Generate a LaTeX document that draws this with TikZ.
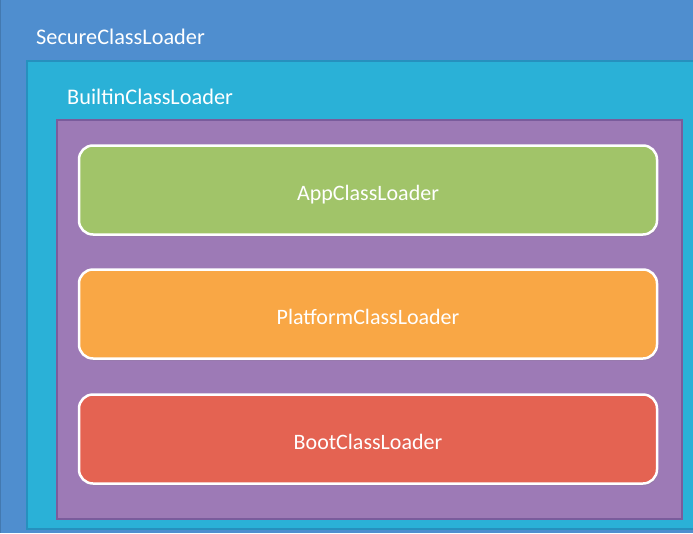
\documentclass[tikz,border=0pt]{standalone}
\usepackage{fontspec}
\setmainfont{Carlito}
\usetikzlibrary{shadows}
\definecolor{secureblue}{HTML}{4F8ECF}
\definecolor{builtincyan}{HTML}{2AB1D7}
\definecolor{cyanedge}{HTML}{2690BE}
\definecolor{innerpurple}{HTML}{9D7AB6}
\definecolor{purpleedge}{HTML}{7A5C9C}
\definecolor{appgreen}{HTML}{A1C469}
\definecolor{platformorange}{HTML}{F9A745}
\definecolor{bootred}{HTML}{E46352}
\begin{document}
\begin{tikzpicture}[x=1pt,y=-1pt,
  layer/.style={anchor=north west,inner sep=0pt,outer sep=0pt,line width=1.2pt},
  title/.style={anchor=base west,inner sep=0pt,text=white,font=\fontsize{22.3}{26}\selectfont},
  loader/.style={draw=white,line width=2.5pt,rounded corners=14pt,minimum width=578pt,
    minimum height=89pt,text=white,text height=20pt,text depth=0pt,font=\fontsize{22}{26}\selectfont,
    drop shadow={opacity=0.25,shadow xshift=1pt,shadow yshift=-2pt}}]
\useasboundingbox (0,0) rectangle (693,533);
\clip (0,0) rectangle (693,533);
\fill[secureblue] (0,0) rectangle (693,533);
\draw[secureblue!85!black,line width=1.5pt] (0,0) -- (0,533);
\node[title] (securelbl) at (36,44) {SecureClassLoader};
% nested layers
\node[layer,fill=builtincyan,draw=cyanedge,minimum width=680pt,minimum height=468pt] (builtin) at (27,61) {};
\node[title] (builtinlbl) at (67,104) {BuiltinClassLoader};
\node[layer,fill=innerpurple,draw=purpleedge,minimum width=625pt,minimum height=399pt] (inner) at (57,120) {};
\node[loader,fill=appgreen] (app) at (368,190) {AppClassLoader};
\node[loader,fill=platformorange] (platform) at (368,314) {PlatformClassLoader};
\node[loader,fill=bootred] (boot) at (368,439) {BootClassLoader};
\end{tikzpicture}
\end{document}
